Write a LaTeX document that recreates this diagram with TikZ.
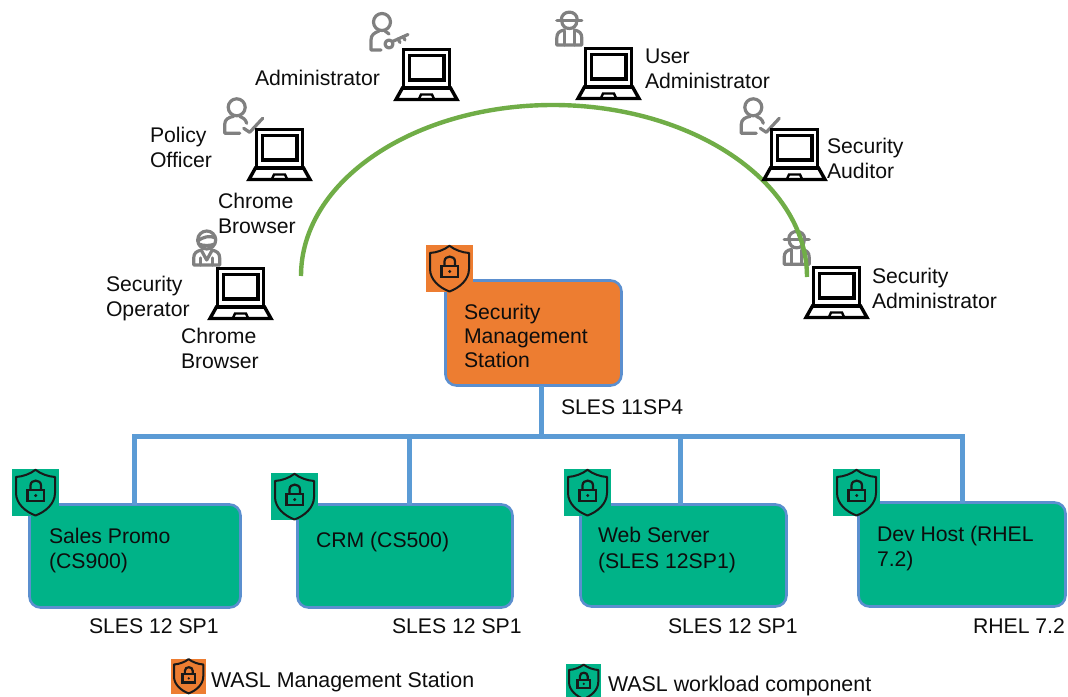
\documentclass[tikz,border=0pt]{standalone}
\usepackage{fontspec}
\setmainfont{Liberation Sans}
\definecolor{wgreen}{HTML}{00B388}
\definecolor{worange}{HTML}{ED7D31}
\definecolor{linkblue}{HTML}{5B9BD5}
\definecolor{boxblue}{HTML}{5B8FCF}
\definecolor{arcgreen}{HTML}{70AD47}
\definecolor{icongray}{HTML}{808080}
\tikzset{
  lbl/.style={anchor=base west,inner sep=0pt,outer sep=0pt,align=left,font=\fontsize{21.2}{25}\selectfont,text=black!95},
  legendlbl/.style={lbl,font=\fontsize{21.4}{25}\selectfont},
  station/.style={draw=boxblue,line width=2.6pt,rounded corners=11pt,outer sep=0pt,inner sep=0pt},
  link/.style={draw=linkblue,line width=5pt},
  pics/laptop/.style={code={
    \draw[black,line width=3.6pt] (1.5,1.5) rectangle (47.5,40);
    \draw[black,line width=3.4pt] (7.5,7.5) rectangle (42,32);
    \draw[black,line width=3.4pt,line join=miter] (1,39) -- (-6,51.5) -- (55,51.5) -- (48,39);
    \draw[black,line width=2.4pt] (17,51) -- (19,46.5) -- (30,46.5) -- (32,51);
  }},
  pics/shieldicon/.style={code={
    \fill[#1] (0,0) rectangle (47,47);
    \draw[black!90,line width=2pt,line join=round] (23.5,0.8) .. controls (29,5) and (36,7.5) .. (43,8)
       -- (43,24) .. controls (43,35) and (33,43) .. (23.5,46.5)
       .. controls (14,43) and (4,35) .. (4,24) -- (4,8) .. controls (11,7.5) and (18,5) .. (23.5,0.8) -- cycle;
    \draw[black!90,line width=2.4pt] (15.5,21) rectangle (32,32);
    \draw[black!90,line width=2.2pt] (18.5,21) -- (18.5,16.5) .. controls (18.5,10) and (29,10) .. (29,16.5) -- (29,21);
    \fill[black!90] (23.7,26.5) circle (1.7);
  }},
  persongray/.style={draw=icongray,line width=3.2pt,line cap=round,line join=round,fill=none},
  pics/keyperson/.style={code={
    \draw[persongray] (0,0) circle (8.5);
    \draw[persongray] (-3,9) .. controls (-8,11) and (-11,13) .. (-11,18) -- (-11,28) -- (-1,28);
    \draw[persongray] (3,9) -- (7,12);
    \draw[persongray] (7,22) circle (4);
    \draw[persongray] (10.5,19.5) -- (26,12.5);
    \draw[persongray] (16,17) -- (18,20.5);
    \draw[persongray] (21,14.5) -- (23,18);
  }},
  pics/checkperson/.style={code={
    \draw[persongray] (0,0) circle (8.5);
    \draw[persongray] (-3,9) .. controls (-8,10) and (-12,12) .. (-12,17) -- (-12,26) -- (3,26);
    \draw[persongray] (3,9) .. controls (6,10) and (9,12) .. (10,16);
    \draw[persongray] (7,21) -- (13,25) -- (26,11);
  }},
  pics/hatperson/.style={code={
    \draw[persongray] (-12.5,0.5) -- (12.5,0.5);
    \draw[persongray] (-8,0) .. controls (-8,-10.5) and (8,-10.5) .. (8,0);
    \draw[persongray] (-7.5,1) .. controls (-7.5,11) and (7.5,11) .. (7.5,1);
    \draw[persongray] (-5,10) .. controls (-10,11) and (-12.5,13) .. (-12.5,18) -- (-12.5,25) -- (12.5,25) -- (12.5,18) .. controls (12.5,13) and (10,11) .. (5,10);
    \draw[persongray] (-5,11) -- (-5,25) (5,11) -- (5,25);
  }},
  pics/opperson/.style={code={
    \draw[persongray] (0,0) circle (9);
    \draw[persongray] (-9,1) .. controls (-4,-3) and (3,-5) .. (9,-2);
    \draw[persongray] (-8,4) .. controls (-3,6) and (3,6) .. (8,4);
    \draw[persongray] (-5,10) .. controls (-10,11) and (-13,13) .. (-13,18) -- (-13,25) -- (13,25) -- (13,18) .. controls (13,13) and (10,11) .. (5,10);
    \draw[persongray] (-5,11) -- (0,20) -- (5,11);
    \draw[persongray] (-6,18) -- (-6,25) (6,18) -- (6,25);
  }},
}
\begin{document}
\begin{tikzpicture}[x=1pt,y=-1pt]
\useasboundingbox (0,0) rectangle (1068,696);
% people
\pic at (382,22) {keyperson};
\pic at (236.7,107.3) {checkperson};
\pic at (753.3,107.3) {checkperson};
\pic at (569.3,20) {hatperson};
\pic at (796.7,239.3) {hatperson};
\pic at (206.7,240) {opperson};
% arc
\coordinate (arcL) at (301,276);
\coordinate (arcT) at (553,105);
\coordinate (arcR) at (807,277);
\draw[arcgreen,line width=4.4pt] (arcL) .. controls (301,181) and (414,105) .. (arcT) .. controls (692,105) and (807,182) .. (arcR);
% laptops
\pic at (402,48) {laptop};
\pic at (255,128) {laptop};
\pic at (216,267) {laptop};
\pic at (584,47) {laptop};
\pic at (770,128) {laptop};
\pic at (812,266) {laptop};
% boxes
\node[station,fill=worange,minimum width=176pt,minimum height=105pt] (sms) at (533.5,333) {};
\node[station,fill=wgreen,minimum width=211pt,minimum height=103pt] (promo) at (135,556) {};
\node[station,fill=wgreen,minimum width=215pt,minimum height=103pt] (crm) at (405,556) {};
\node[station,fill=wgreen,minimum width=206pt,minimum height=102pt] (web) at (683.5,555.5) {};
\node[station,fill=wgreen,minimum width=207pt,minimum height=104pt] (dev) at (962,554.5) {};
% connectors
\coordinate (stem) at (541,436);
\coordinate (dropA) at (134,436);
\coordinate (dropB) at (409,436);
\coordinate (dropC) at (680,436);
\coordinate (dropD) at (962,436);
\draw[link] (stem|-sms.south) -- (541,439);
\draw[link] (dropA|-promo.north) -- (dropA) -- (dropD) -- (dropD|-dev.north);
\draw[link] (dropB) -- (dropB|-crm.north);
\draw[link] (dropC) -- (dropC|-web.north);
% badges
\pic at (426,245) {shieldicon=worange};
\pic at (12,469) {shieldicon=wgreen};
\pic at (271,473) {shieldicon=wgreen};
\pic at (564,469) {shieldicon=wgreen};
\pic at (833,469) {shieldicon=wgreen};
\pic[scale=.75] at (171,658.5) {shieldicon=worange};
\pic[scale=.75] at (566,664) {shieldicon=wgreen};
% labels
\node[lbl] (t1) at (255,85) {Administrator};
\node[lbl] (t2a) at (645,63) {User};
\node[lbl] (t2b) at (645,88) {Administrator};
\node[lbl] (t3a) at (827,153) {Security};
\node[lbl] (t3b) at (827,178) {Auditor};
\node[lbl] (t4a) at (872,283) {Security};
\node[lbl] (t4b) at (872,308) {Administrator};
\node[lbl] (t5a) at (150,142) {Policy};
\node[lbl] (t5b) at (150,167) {Officer};
\node[lbl] (t6a) at (218,208) {Chrome};
\node[lbl] (t6b) at (218,233) {Browser};
\node[lbl] (t7a) at (106,291) {Security};
\node[lbl] (t7b) at (106,316) {Operator};
\node[lbl] (t8a) at (181,343) {Chrome};
\node[lbl] (t8b) at (181,368) {Browser};
\node[lbl] (s1) at (464,319) {Security};
\node[lbl] (s2) at (464,343) {Management};
\node[lbl] (s3) at (464,367) {Station};
\node[lbl] (s4) at (561,414) {SLES 11SP4};
\node[lbl] (p1) at (49,543) {Sales Promo};
\node[lbl] (p2) at (49,568) {(CS900)};
\node[lbl] (c1) at (316,547) {CRM (CS500)};
\node[lbl] (w1) at (598,542) {Web Server};
\node[lbl] (w2) at (598,568) {(SLES 12SP1)};
\node[lbl] (d1) at (877,541) {Dev Host (RHEL};
\node[lbl] (d2) at (877,566) {7.2)};
\node[lbl] (o1) at (89,633) {SLES 12 SP1};
\node[lbl] (o2) at (392,633) {SLES 12 SP1};
\node[lbl] (o3) at (668,633) {SLES 12 SP1};
\node[lbl] (o4) at (973,633) {RHEL 7.2};
\node[legendlbl] (l1) at (211,687) {WASL Management Station};
\node[legendlbl] (l2) at (608,691) {WASL workload component};
\end{tikzpicture}
\end{document}
